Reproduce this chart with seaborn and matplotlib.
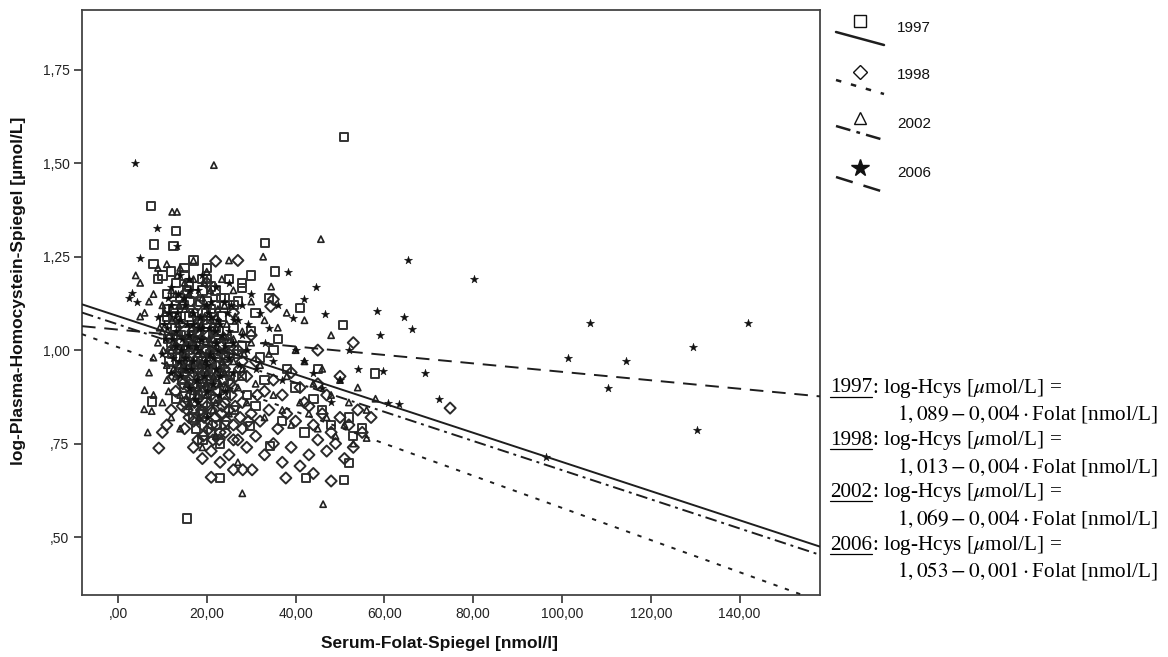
import numpy as np
import pandas as pd
import matplotlib
matplotlib.use("Agg")
import matplotlib.pyplot as plt
import seaborn as sns

sns.set_theme(style="ticks")
plt.rcParams["font.family"] = ["Liberation Sans", "DejaVu Sans"]
plt.rcParams["mathtext.fontset"] = "stix"

# ---------------- data ----------------
years = ["1997", "1998", "2002", "2006"]

pts_1997 = [
    (12, 1.02), (14, 0.98), (15, 1.05), (16, 0.95), (17, 1.10), (18, 1.00), (19, 0.93), (20, 1.07),
    (21, 0.97), (22, 1.03), (13, 1.12), (15, 0.90), (17, 1.15), (19, 1.08), (21, 0.92), (23, 1.01),
    (14, 0.96), (16, 1.18), (18, 0.88), (20, 1.13), (22, 1.06), (24, 0.94), (11, 1.09), (13, 1.04),
    (15, 0.99), (17, 0.91), (19, 1.16), (21, 1.11), (16, 1.03), (18, 0.97), (20, 1.19), (22, 0.89),
    (12, 0.95), (14, 1.14), (18, 1.07), (24, 1.12), (26, 1.00), (19, 0.86), (17, 0.84), (15, 1.20),
    (8, 1.23), (10, 1.20), (12, 1.21), (13, 1.18), (9, 1.19), (11, 1.15), (16, 1.17), (19, 1.19),
    (22, 1.16), (24, 1.14), (26, 1.12), (28, 1.18), (30, 1.20), (25, 1.19), (27, 1.13), (20, 1.22),
    (17, 1.24), (7.4, 1.385), (13.1, 1.318), (8.1, 1.283), (12.5, 1.278), (33.1, 1.286), (35.4, 1.21),
    (27.9, 1.166), (41, 1.112), (50.7, 1.067), (50.9, 1.57), (15.5, 0.55), (23, 0.658), (42.3, 0.658),
    (50.9, 0.652), (52, 0.698), (57.9, 0.938), (7.7, 0.863), (29.7, 0.797), (34.2, 0.743),
    (30, 1.05), (32, 0.98), (35, 1.00), (38, 0.95), (33, 0.92), (36, 1.03), (40, 0.90), (44, 0.87),
    (46, 0.84), (48, 0.80), (52, 0.82), (55, 0.79), (29, 0.88), (26, 0.84), (24, 0.80), (21, 0.78),
    (19, 0.76), (17, 0.82), (23, 0.75), (28, 0.93), (31, 0.85), (37, 0.81), (42, 0.78), (45, 0.95),
    (53, 0.77), (25, 1.02), (27, 0.99), (22, 0.87), (31, 1.10), (34, 1.14),
    (10.5, 1.08), (11.5, 0.97), (12.5, 1.11), (13.5, 1.04), (14.5, 0.92), (15.5, 1.16), (16.5, 1.01),
    (17.5, 0.96), (18.5, 1.13), (19.5, 1.02), (20.5, 0.90), (21.5, 1.05), (22.5, 0.99), (23.5, 1.09),
    (24.5, 1.03), (13, 0.87), (15, 1.22), (17, 1.06), (19, 0.94), (21, 1.17), (23, 0.96), (11, 1.11),
    (14, 1.00), (16, 1.09), (18, 0.93), (20, 1.04), (22, 1.12), (24, 0.98), (26, 1.06), (28, 1.01),
    (12.8, 1.06), (13.8, 0.94), (14.8, 1.12), (15.8, 1.00), (16.8, 0.91), (17.8, 1.04), (18.8, 0.97),
    (19.8, 1.10), (20.8, 0.99), (21.8, 0.87), (22.8, 1.05), (23.8, 0.92), (16.2, 1.13), (17.2, 0.88),
    (18.2, 1.02), (19.2, 0.83), (20.2, 0.95), (21.2, 1.01), (22.2, 0.80), (23.2, 1.14), (15.2, 0.96),
    (14.2, 1.04), (13.2, 1.09), (12.2, 0.99), (11.2, 1.03), (24.2, 0.88), (25.2, 0.93), (17.6, 0.79),
    (19.6, 0.90), (21.6, 0.94),
]

pts_1998 = [
    (14, 0.95), (16, 0.90), (18, 0.87), (20, 0.85), (22, 0.82), (17, 0.93), (19, 0.80), (21, 0.88),
    (23, 0.78), (25, 0.84), (15, 0.86), (18, 0.76), (20, 0.92), (24, 0.90), (26, 0.80), (28, 0.86),
    (30, 0.83), (27, 0.76), (22, 0.96), (16, 0.82), (13, 0.89), (12, 0.84), (11, 0.80), (10, 0.78),
    (15, 0.79), (17, 0.74), (19, 0.71), (21, 0.73), (23, 0.70), (25, 0.72), (26, 0.76), (29, 0.74),
    (31, 0.77), (33, 0.72), (35, 0.75), (37, 0.70), (39, 0.74), (41, 0.69), (43, 0.72), (45, 0.76),
    (47, 0.73), (49, 0.75), (51, 0.71), (53, 0.74), (32, 0.81), (34, 0.84), (36, 0.79), (38, 0.83),
    (40, 0.81), (42, 0.86), (44, 0.80), (46, 0.83), (48, 0.78), (50, 0.82), (52, 0.80), (54, 0.84),
    (33, 0.89), (35, 0.92), (37, 0.88), (39, 0.94), (41, 0.90), (43, 0.85), (45, 0.91), (47, 0.88),
    (29, 0.93), (31, 0.97), (27, 1.00), (24, 1.03), (20, 1.00), (18, 1.05), (16, 1.02), (14, 1.07),
    (22, 1.08), (26, 1.10), (30, 1.04), (12, 1.00), (45, 1.00), (53, 1.02), (35, 1.136), (34.4, 1.117),
    (22, 1.238), (27, 1.24), (9.2, 0.738), (37.8, 0.658), (28.1, 0.68), (30.2, 0.68), (74.8, 0.845),
    (18, 1.12), (15, 1.15), (20, 1.18), (24, 0.95), (28, 0.97), (55, 0.78), (57, 0.82), (50, 0.93),
    (21, 0.66), (26, 0.68), (44, 0.67), (48, 0.65),
    (12.5, 0.93), (13.5, 0.98), (14.5, 0.85), (15.5, 1.01), (16.5, 0.88), (17.5, 0.97), (18.5, 0.83),
    (19.5, 0.94), (20.5, 0.79), (21.5, 1.02), (22.5, 0.89), (23.5, 0.85), (24.5, 0.97), (25.5, 0.88),
    (26.5, 0.93), (27.5, 0.82), (19, 0.89), (21, 0.84), (17, 0.81), (23, 0.94), (25, 0.99), (15, 0.94),
    (18, 0.98), (20, 0.96), (22, 0.91), (24, 0.86), (26, 0.90), (28, 0.79), (14, 1.02), (16, 0.97),
    (16.2, 0.92), (17.2, 0.86), (18.2, 0.95), (19.2, 0.77), (20.2, 0.90), (21.2, 0.80), (22.2, 0.93),
    (23.2, 0.83), (24.2, 0.78), (25.2, 0.91), (18.8, 0.84), (20.8, 0.97), (22.8, 0.76), (19.6, 1.00),
    (21.6, 0.87), (23.6, 0.99), (17.6, 0.90), (15.6, 0.84), (14.6, 0.91), (26.4, 0.85), (27.4, 0.95),
    (29.4, 0.81), (31.4, 0.88), (16.8, 1.05), (18.4, 1.08), (20.4, 1.04), (22.4, 1.00), (24.4, 0.81),
    (21.4, 0.76), (19.4, 0.82),
]

pts_2002 = [
    (5, 1.09), (21.6, 1.495), (12.2, 1.37), (13.3, 1.37), (45.7, 1.297), (32.7, 1.25), (34.5, 1.17),
    (28, 0.617), (46.2, 0.588), (6, 0.893), (5.9, 0.842), (7.6, 0.837), (6.7, 0.78), (56, 0.765),
    (4, 1.20), (5, 1.18), (8, 1.15), (9, 1.22), (11, 1.23), (14, 1.22), (17, 1.24), (20, 1.21),
    (25, 1.24), (7, 1.13), (6, 1.10), (10, 1.12),
    (10, 1.05), (12, 1.00), (14, 1.08), (16, 0.97), (18, 1.03), (20, 0.94), (22, 1.06), (13, 0.93),
    (15, 1.11), (17, 0.89), (19, 1.14), (21, 0.99), (23, 0.91), (11, 0.96), (9, 1.02), (8, 0.98),
    (7, 0.94), (8, 0.88), (10, 0.86), (12, 0.82), (14, 0.79), (16, 0.85), (18, 0.92), (20, 0.88),
    (24, 1.00), (26, 0.97), (28, 1.05), (30, 1.02), (32, 0.96), (34, 0.99), (36, 1.06), (38, 0.93),
    (40, 1.00), (42, 0.97), (44, 0.91), (46, 0.95), (48, 0.88), (50, 0.92), (52, 0.86), (54, 0.90),
    (56, 0.84), (58, 0.87), (25, 0.83), (27, 0.90), (29, 0.86), (31, 0.91), (33, 0.82), (35, 0.88),
    (37, 0.84), (39, 0.80), (41, 0.86), (43, 0.83), (45, 0.79), (47, 0.82), (49, 0.77), (51, 0.80),
    (53, 0.75), (22, 0.77), (19, 0.74), (27, 0.70), (38, 1.10), (42, 1.08), (48, 1.04), (30, 1.13),
    (26, 1.16), (24, 1.12), (33, 1.08), (15, 1.18), (13, 1.15),
    (10.5, 1.10), (11.5, 1.04), (12.5, 0.95), (13.5, 1.07), (14.5, 1.13), (15.5, 0.91), (16.5, 1.06),
    (17.5, 1.00), (18.5, 0.96), (19.5, 1.09), (20.5, 1.03), (21.5, 0.93), (22.5, 1.11), (23.5, 0.97),
    (24.5, 1.07), (12, 1.16), (14, 0.88), (16, 1.15), (18, 0.90), (20, 1.12), (22, 0.86), (24, 0.94),
    (26, 1.03), (28, 0.95), (17, 1.19), (19, 0.99), (21, 1.08), (13, 1.02), (15, 0.99), (11, 0.92),
    (12.8, 1.01), (13.8, 1.12), (14.8, 0.96), (15.8, 1.04), (16.8, 1.10), (17.8, 0.93), (18.8, 1.07),
    (19.8, 0.91), (20.8, 1.16), (21.8, 1.02), (22.8, 0.95), (23.8, 1.04), (16.2, 0.86), (18.2, 0.82),
    (20.2, 0.98), (22.2, 1.09), (24.2, 0.90), (14.2, 0.95), (12.2, 1.08), (10.2, 1.00), (9.4, 1.06),
    (11.4, 0.89), (26.4, 1.09), (28.4, 0.99), (17.4, 1.03), (19.4, 1.18), (21.4, 0.84), (15.4, 0.87),
    (13.4, 1.20), (23.4, 1.19),
]

pts_2006 = [
    (3.8, 1.50), (8.8, 1.326), (5, 1.246), (65.3, 1.24), (80.2, 1.19), (38.3, 1.21), (44.6, 1.17),
    (41.9, 1.136), (46.6, 1.096), (58.3, 1.104), (64.4, 1.09), (39.4, 1.085), (66.2, 1.056), (59, 1.04),
    (59.7, 0.944), (69.1, 0.94), (72.3, 0.87), (60.8, 0.858), (63.3, 0.855), (101.4, 0.978),
    (96.4, 0.714), (106.3, 1.072), (114.4, 0.97), (110.4, 0.898), (129.5, 1.008), (141.9, 1.072),
    (130.4, 0.786), (3.2, 1.152), (4.3, 1.128), (2.5, 1.14), (13.3, 1.278),
    (12, 1.12), (14, 1.08), (16, 1.04), (18, 1.00), (20, 0.96), (22, 1.02), (15, 0.98), (17, 1.10),
    (19, 1.06), (21, 1.13), (13, 1.01), (11, 1.06), (9, 1.09), (23, 0.93), (25, 1.05), (27, 1.08),
    (29, 1.00), (31, 0.95), (33, 1.02), (35, 0.97), (37, 0.92), (24, 0.89), (26, 0.94), (28, 1.12),
    (30, 1.15), (32, 1.10), (34, 1.06), (36, 1.12), (40, 1.00), (42, 0.97), (44, 0.94), (46, 0.90),
    (48, 0.86), (50, 0.92), (52, 1.00), (54, 0.95), (16, 0.90), (18, 0.86), (20, 0.82), (14, 0.93),
    (10, 0.99), (12, 0.94), (22, 1.17), (19, 1.20), (25, 1.18),
    (10.5, 1.03), (11.5, 1.10), (12.5, 0.98), (13.5, 1.15), (14.5, 1.03), (15.5, 1.07), (16.5, 0.95),
    (17.5, 1.01), (18.5, 1.09), (19.5, 0.97), (20.5, 1.06), (21.5, 0.91), (22.5, 1.00), (23.5, 1.04),
    (24.5, 1.10), (13, 1.05), (15, 1.12), (17, 0.97), (19, 1.03), (21, 1.09), (23, 1.07), (25, 0.98),
    (18, 1.16), (16, 1.19), (14, 1.20), (12, 1.17), (20, 0.89), (22, 0.95), (26, 1.02), (28, 1.04),
    (12.8, 1.09), (13.8, 0.97), (14.8, 1.14), (15.8, 1.01), (16.8, 1.07), (17.8, 0.92), (18.8, 1.03),
    (19.8, 1.12), (20.8, 0.99), (21.8, 1.05), (22.8, 0.88), (23.8, 1.13), (16.2, 1.16), (18.2, 1.06),
    (20.2, 1.10), (22.2, 1.08), (14.2, 1.00), (12.2, 1.03), (11.2, 1.14), (24.2, 1.01), (26.2, 1.08),
    (27.2, 0.96), (29.2, 1.07), (17.4, 0.87), (19.4, 0.93), (21.4, 0.98), (15.4, 0.95), (13.4, 1.10),
    (10.4, 1.07), (25.4, 1.12),
]

# regression lines as drawn (intercept, slope)
line_intercepts = [1.091, 1.008, 1.069, 1.055]
line_slopes = [-0.0039, -0.0043, -0.0039, -0.00113]

# equation labels
eq_intercepts = ["1,089", "1,013", "1,069", "1,053"]
eq_slopes = ["0,004", "0,004", "0,004", "0,001"]

x_ticks = [0, 20, 40, 60, 80, 100, 120, 140]
y_ticks = [0.50, 0.75, 1.00, 1.25, 1.50, 1.75]

# ---------------- build frame ----------------
series = [pts_1997, pts_1998, pts_2002, pts_2006]
frames = []
for yr, pts in zip(years, series):
    arr = np.array(pts)
    frames.append(pd.DataFrame({"folat": arr[:, 0], "hcys": arr[:, 1], "year": yr}))
df = pd.concat(frames, ignore_index=True)

W, H = 1168, 657
fig = plt.figure(figsize=(W / 100, H / 100), dpi=100)
ax = fig.add_axes([82 / W, 1 - 595 / H, (820 - 82) / W, (595 - 10) / H])
ax.set_facecolor("white")

ink = "#1e1e1e"
marker_style = {
    "1997": dict(marker="s", s=36, filled=False, lw=1.4, ec="#333333"),
    "1998": dict(marker="D", s=32, filled=False, lw=1.4, ec="#2a2a2a"),
    "2002": dict(marker="^", s=20, filled=False, lw=1.2, ec="#222222"),
    "2006": dict(marker="*", s=38, filled=True, lw=0.3, ec="#111111"),
}
for yr in years:
    st = marker_style[yr]
    sub = df[df["year"] == yr]
    sns.scatterplot(data=sub, x="folat", y="hcys", marker=st["marker"], s=st["s"],
                    ax=ax, color=st["ec"], linewidth=st["lw"], legend=False, zorder=2)
    coll = ax.collections[-1]
    if st["filled"]:
        coll.set_facecolor("#111111")
        coll.set_edgecolor("#111111")
    else:
        coll.set_facecolor("none")
        coll.set_edgecolor(st["ec"])
    coll.set_linewidth(st["lw"])

xmin, xmax = -8.1, 158.1
ymin, ymax = 0.345, 1.91
line_styles = ["-", (0, (2.2, 4.0)), (0, (6, 2.5, 1.5, 2.5)), (0, (7, 4.5))]
xs = np.array([xmin, xmax])
for b, m, ls in zip(line_intercepts, line_slopes, line_styles):
    ax.plot(xs, b + m * xs, color=ink, lw=1.4, linestyle=ls, zorder=3)

ax.set_xlim(xmin, xmax)
ax.set_ylim(ymin, ymax)


def fmt(v):
    s = f"{v:.2f}".replace(".", ",")
    if s.startswith("0,"):
        s = s[1:]
    return s


ax.set_xticks(x_ticks)
ax.set_xticklabels([fmt(v) for v in x_ticks])
ax.set_yticks(y_ticks)
ax.set_yticklabels([fmt(v) for v in y_ticks])
ax.tick_params(axis="both", direction="out", length=6, width=1.2, color="#333333",
               labelsize=10, labelcolor="#222222", pad=3)
for sp in ax.spines.values():
    sp.set_visible(True)
    sp.set_color("#444444")
    sp.set_linewidth(1.3)

ax.set_xlabel("Serum-Folat-Spiegel [nmol/l]", fontsize=12.5, fontweight="bold",
              color="#111111")
ax.set_ylabel("log-Plasma-Homocystein-Spiegel [µmol/L]", fontsize=12.5, fontweight="bold",
              color="#111111")
ax.xaxis.set_label_coords(0.485, -0.07)
ax.yaxis.set_label_coords(-0.076, 0.52)

# ---------------- legend and equations (overlay in pixel units) ----------------
ov = fig.add_axes([0, 0, 1, 1], zorder=5)
ov.set_xlim(0, W)
ov.set_ylim(H, 0)
ov.axis("off")
ov.patch.set_alpha(0)

leg_marker_y = [21, 72, 118, 168]
leg_line_y = [(32, 45), (80, 94), (126, 140), (177, 192)]
leg_text_y = [28, 75, 124, 173]
leg_markers = [("s", 8.5, False), ("D", 7.5, False), ("^", 9, False), ("*", 13, True)]
for i, yr in enumerate(years):
    mk, ms, filled = leg_markers[i]
    ov.plot([860], [leg_marker_y[i]], marker=mk, ms=ms, mfc="#111111" if filled else "white",
            mec="#111111", mew=1.0, ls="none")
    ov.plot([836, 884], list(leg_line_y[i]), color=ink, lw=1.8, linestyle=line_styles[i])
    ov.text(897, leg_text_y[i], yr, fontsize=11, va="center", ha="left", color="#111111")

serif = ["Liberation Serif", "DejaVu Serif"]
eq_y0 = 388
eq_dy = 26.2
eq_fs = 15.3
fig.canvas.draw()
renderer = fig.canvas.get_renderer()
for i, yr in enumerate(years):
    y1 = eq_y0 + 2 * i * eq_dy
    y2 = y1 + eq_dy
    t = ov.text(830, y1, yr, fontsize=eq_fs, family=serif, va="center", ha="left", color="black")
    fig.canvas.draw()
    bb = t.get_window_extent(renderer=renderer)
    inv = ov.transData.inverted()
    (xa, ya), (xb, yb) = inv.transform([(bb.x0, bb.y0), (bb.x1, bb.y0)])
    ov.plot([xa, xb], [ya - 1, yb - 1], color="black", lw=0.9)
    ov.text(xb, y1, r": log-Hcys [$\mu$mol/L] =", fontsize=eq_fs, family=serif,
            va="center", ha="left", color="black")
    ov.text(897, y2, rf"${eq_intercepts[i]}-{eq_slopes[i]}\cdot$Folat [nmol/L]", fontsize=eq_fs,
            family=serif, va="center", ha="left", color="black")

fig.savefig("out.png", dpi=100, facecolor="white")
